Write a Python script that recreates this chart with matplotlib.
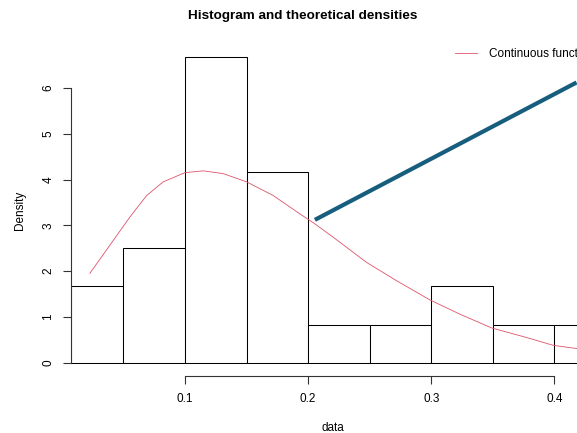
import matplotlib
matplotlib.use('Agg')
import matplotlib.pyplot as plt
import numpy as np

plt.rcParams.update({
    'font.family': ['Liberation Sans', 'DejaVu Sans'],
    'font.size': 8.5,
})

# histogram breaks and densities
breaks = [0.0074, 0.05, 0.10, 0.15, 0.20, 0.25, 0.30, 0.35, 0.40, 0.45]
density = [1.67, 2.50, 6.67, 4.17, 0.83, 0.83, 1.67, 0.83, 0.83]

# fitted continuous density
curve_x = [0.0227, 0.0417, 0.0552, 0.0688, 0.0823, 0.0999, 0.1148, 0.131, 0.150,
           0.1717, 0.1933, 0.2040, 0.2204, 0.2475, 0.2719, 0.299, 0.3233, 0.349,
           0.3775, 0.399, 0.418, 0.44]
curve_y = [1.95, 2.67, 3.18, 3.65, 3.95, 4.15, 4.19, 4.13, 3.95,
           3.65, 3.25, 3.06, 2.74, 2.19, 1.79, 1.37, 1.06, 0.76,
           0.55, 0.38, 0.31, 0.25]

# thick segment
seg_x = [0.2055, 0.418]
seg_y = [3.12, 6.12]

W, H = 577, 433
fig = plt.figure(figsize=(W / 100, H / 100), dpi=100)
left, right, top, bottom = 71, 595, 44, 376
ax = fig.add_axes([left / W, (H - bottom) / H, (right - left) / W, (bottom - top) / H])
ax.set_xlim(0.0074, 0.433)
ax.set_ylim(-0.29, 6.96)

widths = np.diff(breaks)
ax.bar(breaks[:-1], density, width=widths, align='edge', color='white',
       edgecolor='black', linewidth=0.75)

line, = ax.plot(curve_x, curve_y, color='#DF536B', linewidth=0.6)
ax.plot(seg_x, seg_y, color='#175E7E', linewidth=3.0, solid_capstyle='butt')

for s in ['top', 'right']:
    ax.spines[s].set_visible(False)
ax.spines['left'].set_bounds(0, 6)
ax.spines['bottom'].set_bounds(0.1, 0.4)
for s in ['left', 'bottom']:
    ax.spines[s].set_linewidth(0.8)
    ax.spines[s].set_color('#333333')

ax.set_xticks([0.1, 0.2, 0.3, 0.4])
ax.set_xticklabels(['0.1', '0.2', '0.3', '0.4'])
ax.set_yticks([0, 1, 2, 3, 4, 5, 6])
ax.tick_params(axis='both', length=5.5, width=0.8, color='#333333', pad=6.5)
for lab in ax.get_yticklabels():
    lab.set_rotation(90)
    lab.set_va('center')

ax.set_xlabel('data')
ax.xaxis.set_label_coords(0.5, (bottom - 428) / (bottom - top))
ax.xaxis.label.set_va('center')
ax.set_ylabel('Density')
ax.yaxis.set_label_coords((20 - left) / (right - left), 0.5)
ax.yaxis.label.set_va('center')

fig.text(303 / W, 1 - 16 / H, 'Histogram and theoretical densities',
         ha='center', va='center', fontsize=9.7, fontweight='bold')

ax.legend([line], ['Continuous function'], loc='center left', frameon=False,
          bbox_to_anchor=((455 - left) / (right - left), (bottom - 54) / (bottom - top)),
          borderaxespad=0, borderpad=0, handlelength=1.85, handletextpad=1.05)

fig.savefig('out.png', dpi=100)
